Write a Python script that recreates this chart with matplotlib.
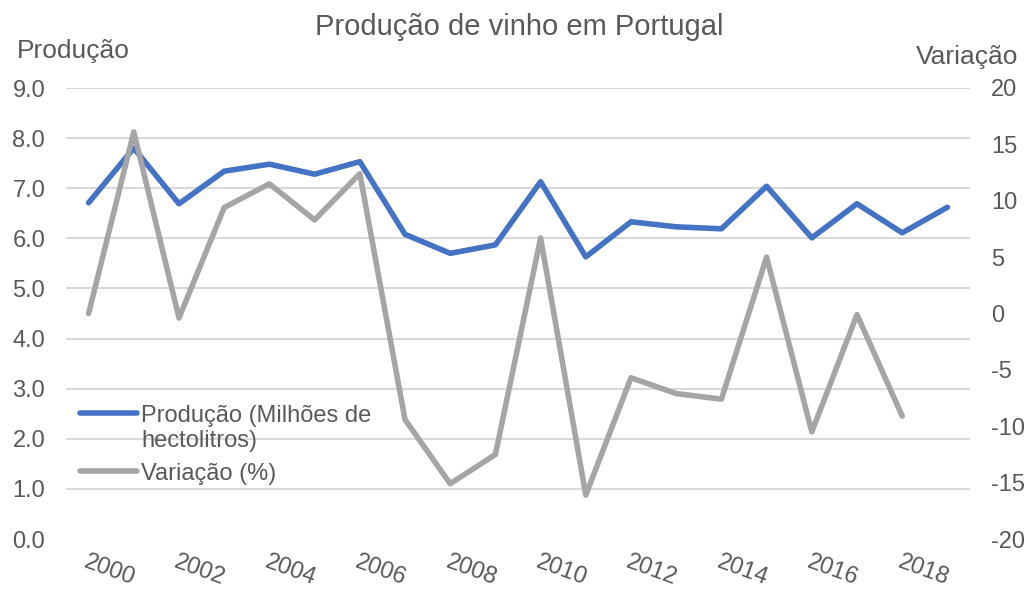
import numpy as np
from matplotlib import pyplot as plt

plt.rcParams['font.family'] = ['Liberation Sans', 'DejaVu Sans']
plt.rcParams['axes.unicode_minus'] = False

years = list(range(2000, 2020))
producao = [6.71, 7.80, 6.69, 7.34, 7.48, 7.28, 7.53, 6.08, 5.70, 5.87,
            7.13, 5.63, 6.33, 6.23, 6.19, 7.04, 6.01, 6.69, 6.11, 6.62]
var_years = list(range(2000, 2019))
variacao = [0.0, 16.1, -0.4, 9.4, 11.5, 8.3, 12.4, -9.4, -15.1, -12.5,
            6.7, -16.1, -5.7, -7.1, -7.6, 5.0, -10.5, -0.1, -9.1]
tick_years = list(range(2000, 2019, 2))

text_col = '#595959'
blue = '#4472C4'
gray = '#A5A5A5'

fig = plt.figure(figsize=(10.29, 5.92), dpi=100)
ax = fig.add_axes([66 / 1029, 1 - 539 / 592, (970 - 66) / 1029, (539 - 88) / 592])
ax2 = ax.twinx()

ax.plot(years, producao, color=blue, lw=4, solid_capstyle='round',
        solid_joinstyle='round', label='Produção (Milhões de\nhectolitros)', zorder=3)
ax2.plot(var_years, variacao, color=gray, lw=4, solid_capstyle='round',
         solid_joinstyle='round', label='Variação (%)', zorder=2)

ax.set_xlim(1999.5, 2019.5)
ax.set_ylim(0, 9)
ax2.set_ylim(-20, 20)
ax.set_yticks(np.arange(0, 9.1, 1))
ax.set_yticklabels([f'{v:.1f}' for v in np.arange(0, 9.1, 1)])
ax2.set_yticks(np.arange(-20, 21, 5))

ax.set_xticks(tick_years)
ax.set_xticklabels([str(y) for y in tick_years], rotation=-20, ha='left',
                   va='top', rotation_mode='anchor')

for a in (ax, ax2):
    for s in a.spines.values():
        s.set_visible(False)
    a.tick_params(length=0, colors=text_col, labelsize=17, pad=15)
ax.tick_params(axis='x', pad=9)

for v in np.arange(1, 9.1, 1):
    ax.axhline(v, color='#D9D9D9', lw=1.5, zorder=0)

fig.text(0.505, 1 - 27 / 592, 'Produção de vinho em Portugal', ha='center',
         va='center', fontsize=21, color=text_col)
fig.text(17 / 1029, 1 - 51 / 592, 'Produção', ha='left', va='center',
         fontsize=19, color=text_col)
fig.text(1018 / 1029, 1 - 57 / 592, 'Variação', ha='right', va='center',
         fontsize=19, color=text_col)

h1, l1 = ax.get_legend_handles_labels()
h2, l2 = ax2.get_legend_handles_labels()
leg = ax2.legend(h1 + h2, l1 + l2, loc='upper left', bbox_to_anchor=(-0.008, 0.345),
                 frameon=False, fontsize=17, labelcolor=text_col,
                 handlelength=2.4, handletextpad=0.2, labelspacing=0.45)
# line the first handle up with the first text line, like the reference
hl = leg.legend_handles[0]
yd = np.asarray(hl.get_ydata(), dtype=float)
hl.set_ydata(yd + 11)

fig.savefig('out.png', dpi=100)
